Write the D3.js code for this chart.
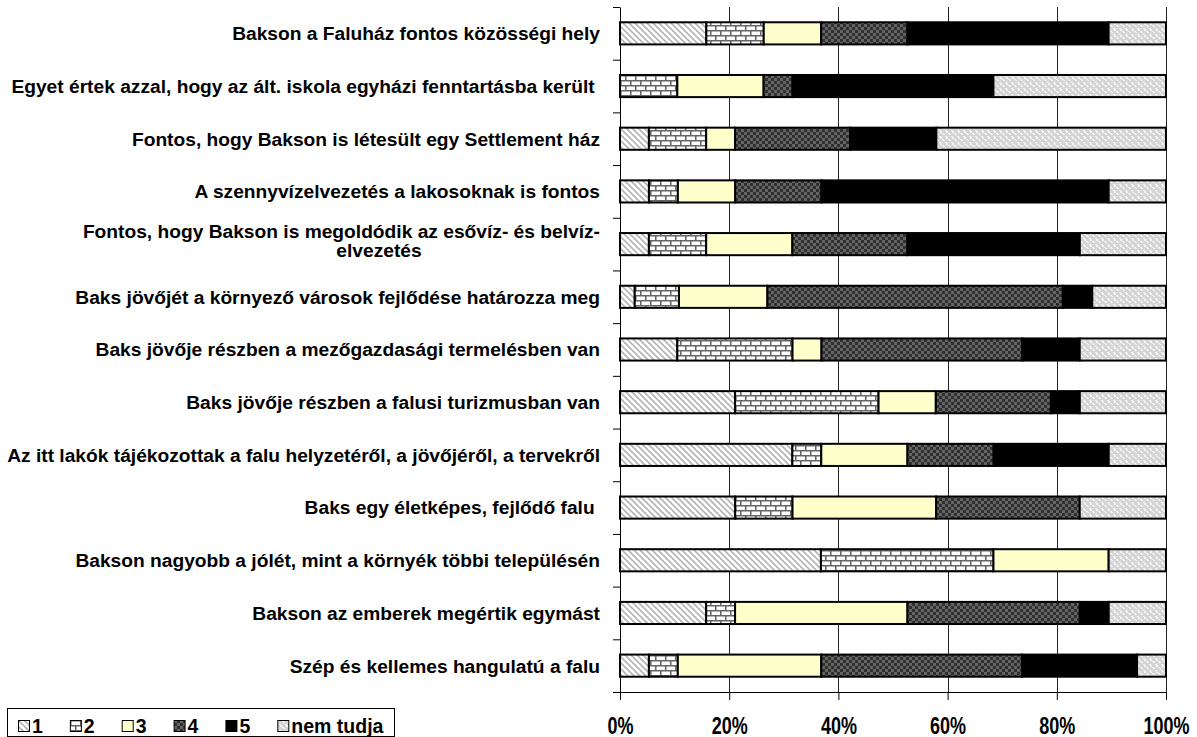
<!DOCTYPE html>
<html>
<head>
<meta charset="utf-8">
<script src="https://cdn.jsdelivr.net/npm/d3@7"></script>
<style>
  html, body { margin: 0; padding: 0; background: #fff; }
  svg { display: block; }
  text { font-family: Arial, "Liberation Sans", sans-serif; font-weight: bold; fill: #000; white-space: pre; }
</style>
</head>
<body>
<svg id="chart" width="1197" height="737"></svg>
<script>
// Statements (top to bottom); "\n" marks a wrapped label
const categories = [
  "Bakson a Faluház fontos közösségi hely",
  "Egyet értek azzal, hogy az ált. iskola egyházi fenntartásba került ",
  "Fontos, hogy Bakson is létesült egy Settlement ház",
  "A szennyvízelvezetés a lakosoknak is fontos",
  "Fontos, hogy Bakson is megoldódik az esővíz- és belvíz-\nelvezetés",
  "Baks jövőjét a környező városok fejlődése határozza meg",
  "Baks jövője részben a mezőgazdasági termelésben van",
  "Baks jövője részben a falusi turizmusban van",
  "Az itt lakók tájékozottak a falu helyzetéről, a jövőjéről, a tervekről",
  "Baks egy életképes, fejlődő falu ",
  "Bakson nagyobb a jólét, mint a környék többi településén",
  "Bakson az emberek megértik egymást",
  "Szép és kellemes hangulatú a falu"
];

// Answer options
const seriesNames = ["1", "2", "3", "4", "5", "nem tudja"];

// Share of answers (%) per statement, one array per option
const s1 = [15.8, 0.0, 5.3, 5.3, 5.3, 2.7, 10.5, 21.1, 31.6, 21.1, 36.8, 15.8, 5.3];
const s2 = [10.5, 10.5, 10.5, 5.3, 10.5, 8.1, 21.1, 26.3, 5.3, 10.5, 31.6, 5.3, 5.3];
const s3 = [10.5, 15.8, 5.3, 10.5, 15.8, 16.2, 5.3, 10.5, 15.8, 26.3, 21.1, 31.6, 26.3];
const s4 = [15.8, 5.3, 21.1, 15.8, 21.1, 54.1, 36.8, 21.1, 15.8, 26.3, 0.0, 31.6, 36.8];
const s5 = [36.8, 36.8, 15.8, 52.6, 31.6, 5.4, 10.5, 5.3, 21.1, 0.0, 0.0, 5.3, 21.1];
const sNT = [10.5, 31.6, 42.1, 10.5, 15.8, 13.5, 15.8, 15.8, 10.5, 15.8, 10.5, 10.5, 5.3];

// Axis tick values
const xTicks = [0, 0.2, 0.4, 0.6, 0.8, 1.0];

const seriesValues = [s1, s2, s3, s4, s5, sNT];
const rows = categories.map((c, i) => {
  const r = { cat: c };
  seriesNames.forEach((s, k) => { r[s] = seriesValues[k][i]; });
  return r;
});

const svg = d3.select("#chart");
const plot = { left: 620, right: 1166, top: 7, bottom: 692 };

const x = d3.scaleLinear().domain([0, 1]).range([plot.left, plot.right]);
const y = d3.scaleBand().domain(categories).range([plot.top, plot.bottom])
  .paddingInner(0.58).paddingOuter(0.29);
const yEdges = d3.scaleLinear().domain([0, categories.length]).range([plot.top, plot.bottom]);

// Fill patterns
const defs = svg.append("defs");
function pattern(id, w, h) {
  return defs.append("pattern").attr("id", id).attr("patternUnits", "userSpaceOnUse")
    .attr("width", w).attr("height", h || w);
}
// 1: light downward diagonal
let p = pattern("p1", 6);
p.append("rect").attr("width", 6).attr("height", 6).attr("fill", "#fff");
p.append("path").attr("d", "M0,0L6,6M-1,5L1,7M5,-1L7,1")
  .attr("stroke", "#b4b4b4").attr("stroke-width", 1.6);
// 2: horizontal brick
p = pattern("p2", 10);
p.append("rect").attr("width", 10).attr("height", 10).attr("fill", "#fff");
p.append("path").attr("d", "M0,0.75H10M0,5.75H10M0.75,0V5.75M5.75,5.75V10")
  .attr("stroke", "#666").attr("stroke-width", 1.6);
// 4: dark checker
p = pattern("p4", 6);
p.append("rect").attr("width", 6).attr("height", 6).attr("fill", "#303030");
p.append("rect").attr("width", 3).attr("height", 3).attr("fill", "#646464");
p.append("rect").attr("x", 3).attr("y", 3).attr("width", 3).attr("height", 3).attr("fill", "#646464");
// nem tudja: light gray weave
p = pattern("p6", 6);
p.append("rect").attr("width", 6).attr("height", 6).attr("fill", "#d4d4d4");
p.append("path").attr("d", "M0,1h2v1h1v1h-2v-1h-1zM3,4h2v1h1v1h-2v-1h-1zM4,0h2v1h-2z")
  .attr("fill", "#f4f4f4");

const fills = {
  "1": "url(#p1)", "2": "url(#p2)", "3": "#ffffcc",
  "4": "url(#p4)", "5": "#000", "nem tudja": "url(#p6)"
};

// Vertical gridlines
svg.append("g").selectAll("line").data(xTicks.filter(t => t > 0)).join("line")
  .attr("x1", d => Math.round(x(d)) + 0.5).attr("x2", d => Math.round(x(d)) + 0.5)
  .attr("y1", plot.top).attr("y2", plot.bottom)
  .attr("stroke", "#222").attr("stroke-width", 1);

// Stacked bars
const stack = d3.stack().keys(seriesNames).offset(d3.stackOffsetExpand);
const layers = stack(rows);
svg.append("g").selectAll("g").data(layers).join("g")
  .attr("fill", d => fills[d.key])
  .selectAll("rect").data(d => d.filter(seg => seg[1] - seg[0] > 1e-6)).join("rect")
  .attr("x", d => x(d[0]))
  .attr("width", d => x(d[1]) - x(d[0]))
  .attr("y", d => y(d.data.cat))
  .attr("height", y.bandwidth())
  .attr("stroke", "#000").attr("stroke-width", 2);

// Left axis: ticks between categories
const gy = svg.append("g").attr("transform", `translate(${plot.left},0)`)
  .call(d3.axisLeft(yEdges).tickValues(d3.range(categories.length + 1)).tickFormat("").tickSize(7).tickSizeOuter(0));
gy.select(".domain").attr("stroke", "#000");
gy.selectAll(".tick line").attr("stroke", "#000");

// Bottom axis
const gx = svg.append("g").attr("transform", `translate(0,${plot.bottom})`)
  .call(d3.axisBottom(x).tickValues(xTicks).tickFormat(d3.format(".0%")).tickSize(8).tickSizeOuter(0));
gx.select(".domain").attr("stroke", "#000");
gx.selectAll(".tick line").attr("stroke", "#000");
gx.selectAll(".tick text")
  .attr("y", null).attr("dy", null)
  .attr("transform", "translate(0,42) scale(1,1.3)")
  .style("font-size", "18px").style("font-weight", "bold")
  .style("font-family", "Arial, 'Liberation Sans', sans-serif").attr("fill", "#000");

// Category labels
const labelX = plot.left - 20;
const lab = svg.append("g").style("font-size", "19.2px");
categories.forEach(c => {
  const cy = y(c) + y.bandwidth() / 2;
  const lines = c.split("\n");
  if (lines.length === 1) {
    lab.append("text").attr("x", labelX).attr("y", cy).attr("dy", "0.36em")
      .attr("text-anchor", "end").text(c);
  } else {
    lab.append("text").attr("x", labelX).attr("y", cy - 13).attr("dy", "0.36em")
      .attr("text-anchor", "end").text(lines[0]);
    lab.append("text").attr("x", labelX - 221).attr("y", cy + 6).attr("dy", "0.36em")
      .attr("text-anchor", "middle").text(lines[1]);
  }
});

// Legend
const legend = svg.append("g");
legend.append("rect").attr("x", 7.5).attr("y", 708.5).attr("width", 387).attr("height", 28)
  .attr("fill", "#fff").attr("stroke", "#000").attr("stroke-width", 1);
let lx = 18;
seriesNames.forEach(name => {
  legend.append("rect").attr("x", lx + 0.5).attr("y", 720.5).attr("width", 11).attr("height", 11)
    .attr("fill", fills[name]).attr("stroke", "#000").attr("stroke-width", 1);
  const t = legend.append("text").attr("x", lx + 14).attr("y", 733)
    .style("font-size", "19.5px").text(name);
  lx += 14 + t.node().getComputedTextLength() + 27;
});
</script>
</body>
</html>
